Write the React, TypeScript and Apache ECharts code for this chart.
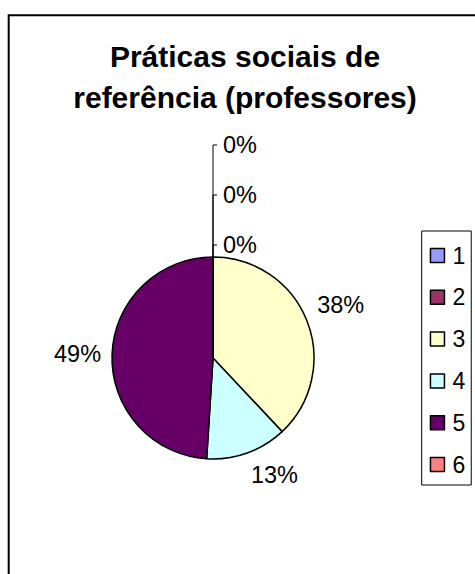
import React, { useEffect, useRef } from "react";
import * as echarts from "echarts";

const categories = ["1", "2", "3", "4", "5", "6"];
const values = [0, 0, 38, 13, 49, 0];
const colors = ["#9999FF", "#993366", "#FFFFCC", "#CCFFFF", "#660066", "#FF8080"];
const titleLines = ["Práticas sociais de", "referência (professores)"];

const CX = 213;
const CY = 358;
const R = 101;
const FONT = "'Liberation Sans', Arial, Helvetica, sans-serif";

export default function App() {
  const ref = useRef<HTMLDivElement>(null);

  useEffect(() => {
    const chart = echarts.init(ref.current!, null, { renderer: "svg" });
    const total = values.reduce((a, b) => a + b, 0);
    const mids: number[] = [];
    let acc = 0;
    values.forEach((v) => {
      mids.push(((acc + v / 2) / total) * 2 * Math.PI);
      acc += v;
    });
    const zeroOrder: Record<number, number> = {};
    let z = 0;
    values.forEach((v, i) => {
      if (v === 0) zeroOrder[i] = z++;
    });

    chart.setOption({
      animation: false,
      backgroundColor: "#fff",
      title: {
        text: titleLines.join("\n"),
        left: 245,
        top: 35.5,
        padding: 0,
        textAlign: "center",
        textStyle: {
          fontSize: 30,
          fontWeight: "bold",
          fontFamily: FONT,
          color: "#000",
          lineHeight: 41,
        },
      },
      graphic: [
        {
          type: "rect",
          silent: true,
          z: -1,
          shape: { x: 8.7, y: 15.3, width: 520, height: 620 },
          style: { fill: "none", stroke: "#000", lineWidth: 2 },
        },
      ],
      legend: {
        orient: "vertical",
        left: 421.7,
        top: 231,
        padding: [13, 6, 9, 8],
        itemWidth: 14,
        itemHeight: 14,
        itemGap: 18.8,
        borderColor: "#000",
        borderWidth: 1,
        icon: "rect",
        selectedMode: false,
        itemStyle: { borderColor: "#000", borderWidth: 1.5 },
        textStyle: {
          fontSize: 23,
          fontFamily: FONT,
          color: "#000",
          lineHeight: 23,
          padding: [0, 0, 0, 3],
        },
        data: categories,
      },
      series: [
        {
          type: "pie",
          center: [CX, CY],
          radius: R,
          startAngle: 90,
          clockwise: true,
          avoidLabelOverlap: false,
          emphasis: { disabled: true },
          itemStyle: { borderColor: "#000", borderWidth: 1.5 },
          label: {
            show: true,
            position: "outside",
            color: "#000",
            fontSize: 23.5,
            fontFamily: FONT,
            formatter: (p: any) => Math.round(p.percent) + "%",
          },
          labelLine: { show: false },
          labelLayout: (params: any) => {
            const i = params.dataIndex;
            if (values[i] === 0) {
              const y = CY - R - 12 - zeroOrder[i] * 50;
              return {
                x: CX + 10,
                y,
                align: "left",
                verticalAlign: "middle",
                labelLinePoints: [
                  [CX, CY - R],
                  [CX, y],
                  [CX + 4, y],
                ],
              };
            }
            const a = mids[i];
            const dx = Math.sin(a);
            const dy = -Math.cos(a);
            const w = params.labelRect.width;
            const h = params.labelRect.height;
            const x = CX + (R + 11) * dx + (Math.abs(dx) > 0.2 ? (Math.sign(dx) * w) / 2 : 0);
            const y = CY + (R + 11) * dy + (Math.abs(dy) > 0.2 ? (Math.sign(dy) * h) / 2 : 0);
            return { x, y, align: "center", verticalAlign: "middle" };
          },
          data: categories.map((name, i) => ({
            name,
            value: values[i],
            itemStyle: { color: colors[i] },
            labelLine:
              values[i] === 0
                ? { show: true, lineStyle: { color: "#000", width: 1 } }
                : { show: false },
          })),
        },
      ],
    });

    return () => chart.dispose();
  }, []);

  return (
    <div
      ref={ref}
      style={{ position: "fixed", left: 0, top: 0, width: 475, height: 574, background: "#fff" }}
    />
  );
}
